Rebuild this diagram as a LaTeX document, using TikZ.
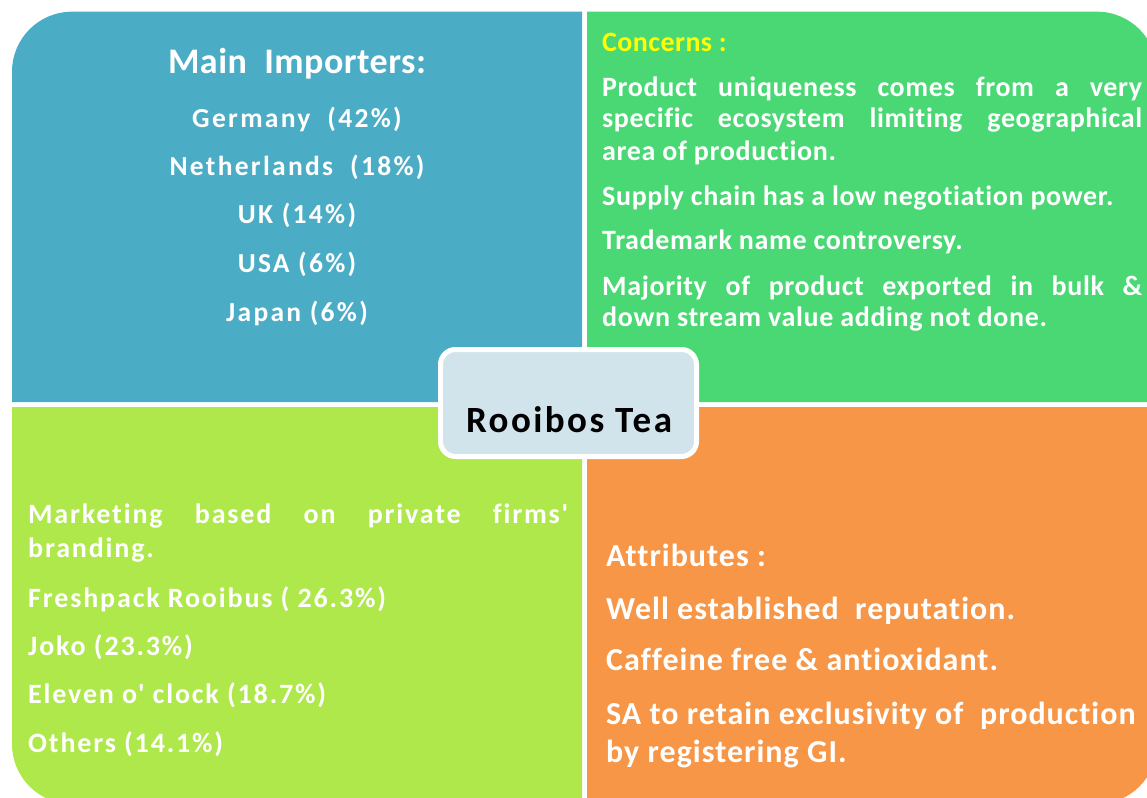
\documentclass[tikz,border=0pt]{standalone}
\usepackage{fontspec}
\newfontfamily\bodyfont{Carlito}[Ligatures=NoCommon]
\definecolor{importblue}{HTML}{4BACC6}
\definecolor{concerngreen}{HTML}{4AD874}
\definecolor{marketlime}{HTML}{AEE84A}
\definecolor{attrorange}{HTML}{F79646}
\definecolor{corefill}{HTML}{D1E3EB}
\definecolor{headyellow}{HTML}{FFFF00}
% a line of text stretched to the full column width
\newcommand{\fullline}[1]{\makebox[540pt][s]{#1}}
\begin{document}
\begin{tikzpicture}[x=1pt,y=-1pt,
  txt/.style 2 args={inner sep=0pt, text=white,
    font=\bodyfont\bfseries\fontsize{#1}{#1}\selectfont\addfontfeature{LetterSpace=#2}},
  imptxt/.style={txt={27.5}{8.4}, anchor=base},
  conctxt/.style={txt={28}{2.3}, anchor=base west},
  mkttxt/.style={txt={28}{6.6}, anchor=base west},
  attrtxt/.style={txt={32}{3.2}, anchor=base west}]
\useasboundingbox (0,0) rectangle (1147,797);
\clip (0,0) rectangle (1147,797);

% the four quadrants, each rounded at its outer corner
\fill[importblue] (582,402) -- (12,402) -- (12,71.7)
  arc[start angle=180,end angle=270,radius=60] -- (582,11.7) -- cycle;
\fill[concerngreen] (587,402) -- (587,11.7) -- (1097,11.7)
  arc[start angle=270,end angle=360,radius=60] -- (1157,402) -- cycle;
\fill[marketlime] (582,407) -- (12,407) -- (12,744)
  arc[start angle=180,end angle=90,radius=60] -- (582,804) -- cycle;
\fill[attrorange] (587,407) -- (1157,407) -- (1157,744)
  arc[start angle=0,end angle=90,radius=60] -- (587,804) -- cycle;

% central label
\node[draw=white, line width=5pt, fill=corefill, rounded corners=15pt,
  minimum width=256pt, minimum height=107pt, inner sep=0pt] (core) at (568.5,403) {};
\node[txt={37}{6.6}, text=black, anchor=base] (coretitle) at (569,432.5) {Rooibos Tea};

% main importers
\node[txt={36}{1.4}, anchor=base] (imphead) at (297,74) {Main~ Importers:};
\node[imptxt] (imp1) at (297,127) {Germany~ (42\%)};
\node[imptxt] (imp2) at (297,175) {Netherlands~ (18\%)};
\node[imptxt] (imp3) at (297,223) {UK (14\%)};
\node[imptxt] (imp4) at (297,272) {USA (6\%)};
\node[imptxt] (imp5) at (297,321) {Japan (6\%)};

% concerns
\node[txt={28}{1.6}, anchor=base west, text=headyellow] (conchead) at (602,52) {Concerns :};
\node[conctxt] (conc1a) at (602,97) {\fullline{Product uniqueness comes from a very}};
\node[conctxt] (conc1b) at (602,128) {\fullline{specific ecosystem limiting geographical}};
\node[conctxt] (conc1c) at (602,160) {area of production.};
\node[conctxt] (conc2) at (602,205) {Supply chain has a low negotiation power.};
\node[conctxt] (conc3) at (602,249) {Trademark name controversy.};
\node[conctxt] (conc4a) at (602,295) {\fullline{Majority of product exported in bulk \&}};
\node[conctxt] (conc4b) at (602,326) {down stream value adding not done.};

% marketing
\node[mkttxt] (mkt1a) at (28,523) {\fullline{Marketing based on private firms'}};
\node[mkttxt] (mkt1b) at (28,557) {branding.};
\node[mkttxt] (mkt2) at (28,607) {Freshpack Rooibus ( 26.3\%)};
\node[mkttxt] (mkt3) at (28,655) {Joko (23.3\%)};
\node[mkttxt] (mkt4) at (28,703) {Eleven o' clock (18.7\%)};
\node[mkttxt] (mkt5) at (28,752) {Others (14.1\%)};

% attributes
\node[attrtxt] (attrhead) at (606,566) {Attributes :};
\node[attrtxt] (attr1) at (606,619) {Well established~ reputation.};
\node[attrtxt] (attr2) at (606,670) {Caffeine free \& antioxidant.};
\node[attrtxt] (attr3a) at (606,724) {SA to retain exclusivity of~ production};
\node[attrtxt] (attr3b) at (606,762) {by registering GI.};
\end{tikzpicture}
\end{document}
